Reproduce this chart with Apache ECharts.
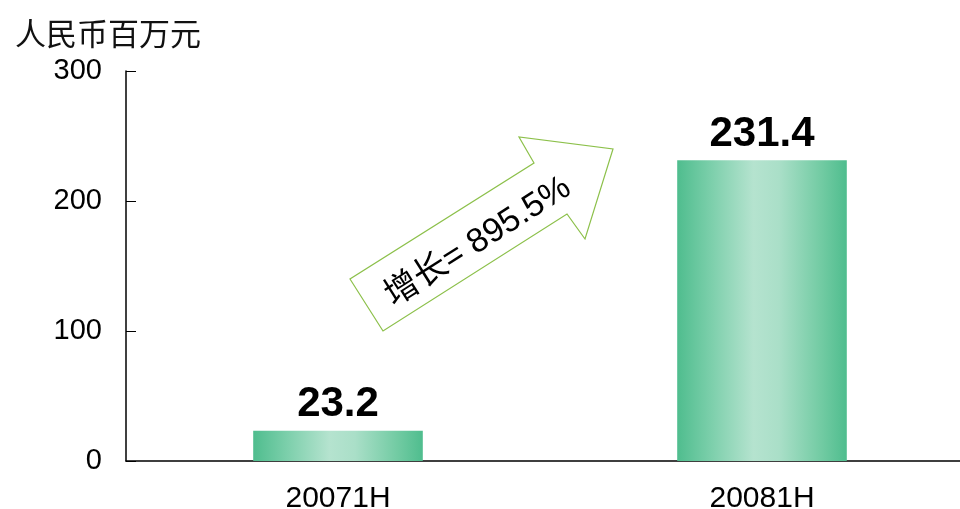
<!DOCTYPE html>
<html>
<head>
<meta charset="utf-8">
<script src="https://cdn.jsdelivr.net/npm/echarts@6/dist/echarts.min.js"></script>
<style>
  html, body { margin: 0; padding: 0; background: #ffffff; overflow: hidden; }
  #chart { width: 960px; height: 509px; display: block; }
</style>
</head>
<body>
<div id="chart"></div>
<script>
// Half-year revenue, RMB millions
const categories = ['20071H', '20081H'];
const revenue = [23.2, 231.4];
const yTicks = { min: 0, max: 300, interval: 100 };
const unitLabel = '人民币百万元';
const growthText = '增长= 895.5%';

const chart = echarts.init(document.getElementById('chart'), null, { renderer: 'canvas' });

// Horizontal sheen across each bar: green edges, pale centre
const barFill = new echarts.graphic.LinearGradient(0, 0, 1, 0, [
  { offset: 0, color: '#4fbd8e' },
  { offset: 0.2, color: '#7ccfab' },
  { offset: 0.45, color: '#b5e3cf' },
  { offset: 0.6, color: '#aadfc8' },
  { offset: 0.85, color: '#72cba3' },
  { offset: 1, color: '#4fbd8e' }
]);

// Growth arrow outline (pixel polygon) with rotated caption
const arrowPoints = [
  [350, 279], [383, 331], [567, 214], [585, 239],
  [613, 149], [519, 137], [534, 163]
];

chart.setOption({
  backgroundColor: '#ffffff',
  animation: false,
  title: {
    text: unitLabel,
    left: 10,
    top: 13,
    textStyle: {
      fontFamily: 'Noto Sans CJK SC',
      fontSize: 31,
      fontWeight: 'normal',
      color: '#111111'
    }
  },
  // plot runs past the right edge so the second band is as wide as the first
  grid: { left: 126, width: 848, top: 71, bottom: 48, outerBoundsMode: 'none', containLabel: false },
  xAxis: {
    type: 'category',
    data: categories,
    boundaryGap: true,
    axisLine: { lineStyle: { color: '#000000', width: 1.5 } },
    axisTick: { inside: true, length: 10, lineStyle: { color: '#000000', width: 1 } },
    axisLabel: {
      margin: 23,
      fontFamily: 'Liberation Sans, Arial, sans-serif',
      fontSize: 30,
      color: '#000000'
    }
  },
  yAxis: {
    type: 'value',
    min: yTicks.min,
    max: yTicks.max,
    interval: yTicks.interval,
    splitLine: { show: false },
    axisLine: { show: true, lineStyle: { color: '#000000', width: 1.5 } },
    axisTick: { show: true, inside: true, length: 10, lineStyle: { color: '#000000', width: 1 } },
    axisLabel: {
      margin: 24,
      fontFamily: 'Liberation Sans, Arial, sans-serif',
      fontSize: 29,
      color: '#000000'
    }
  },
  series: [{
    type: 'bar',
    data: revenue,
    barWidth: '40%',
    itemStyle: { color: barFill },
    label: {
      show: true,
      position: 'top',
      distance: 5,
      formatter: p => p.value.toFixed(1),
      fontFamily: 'Liberation Sans, Arial, sans-serif',
      fontWeight: 'bold',
      fontSize: 42,
      color: '#000000'
    }
  }],
  graphic: [
    {
      type: 'polygon',
      shape: { points: arrowPoints },
      style: { fill: '#ffffff', stroke: '#8cc04a', lineWidth: 1.2 },
      z: 10
    },
    {
      type: 'text',
      x: 478,
      y: 242,
      rotation: 32.5 * Math.PI / 180,
      style: {
        text: growthText,
        fontFamily: 'Liberation Sans, Noto Sans CJK SC, sans-serif',
        fontSize: 34,
        fill: '#000000',
        align: 'center',
        verticalAlign: 'middle'
      },
      z: 11
    }
  ]
});
</script>
</body>
</html>
